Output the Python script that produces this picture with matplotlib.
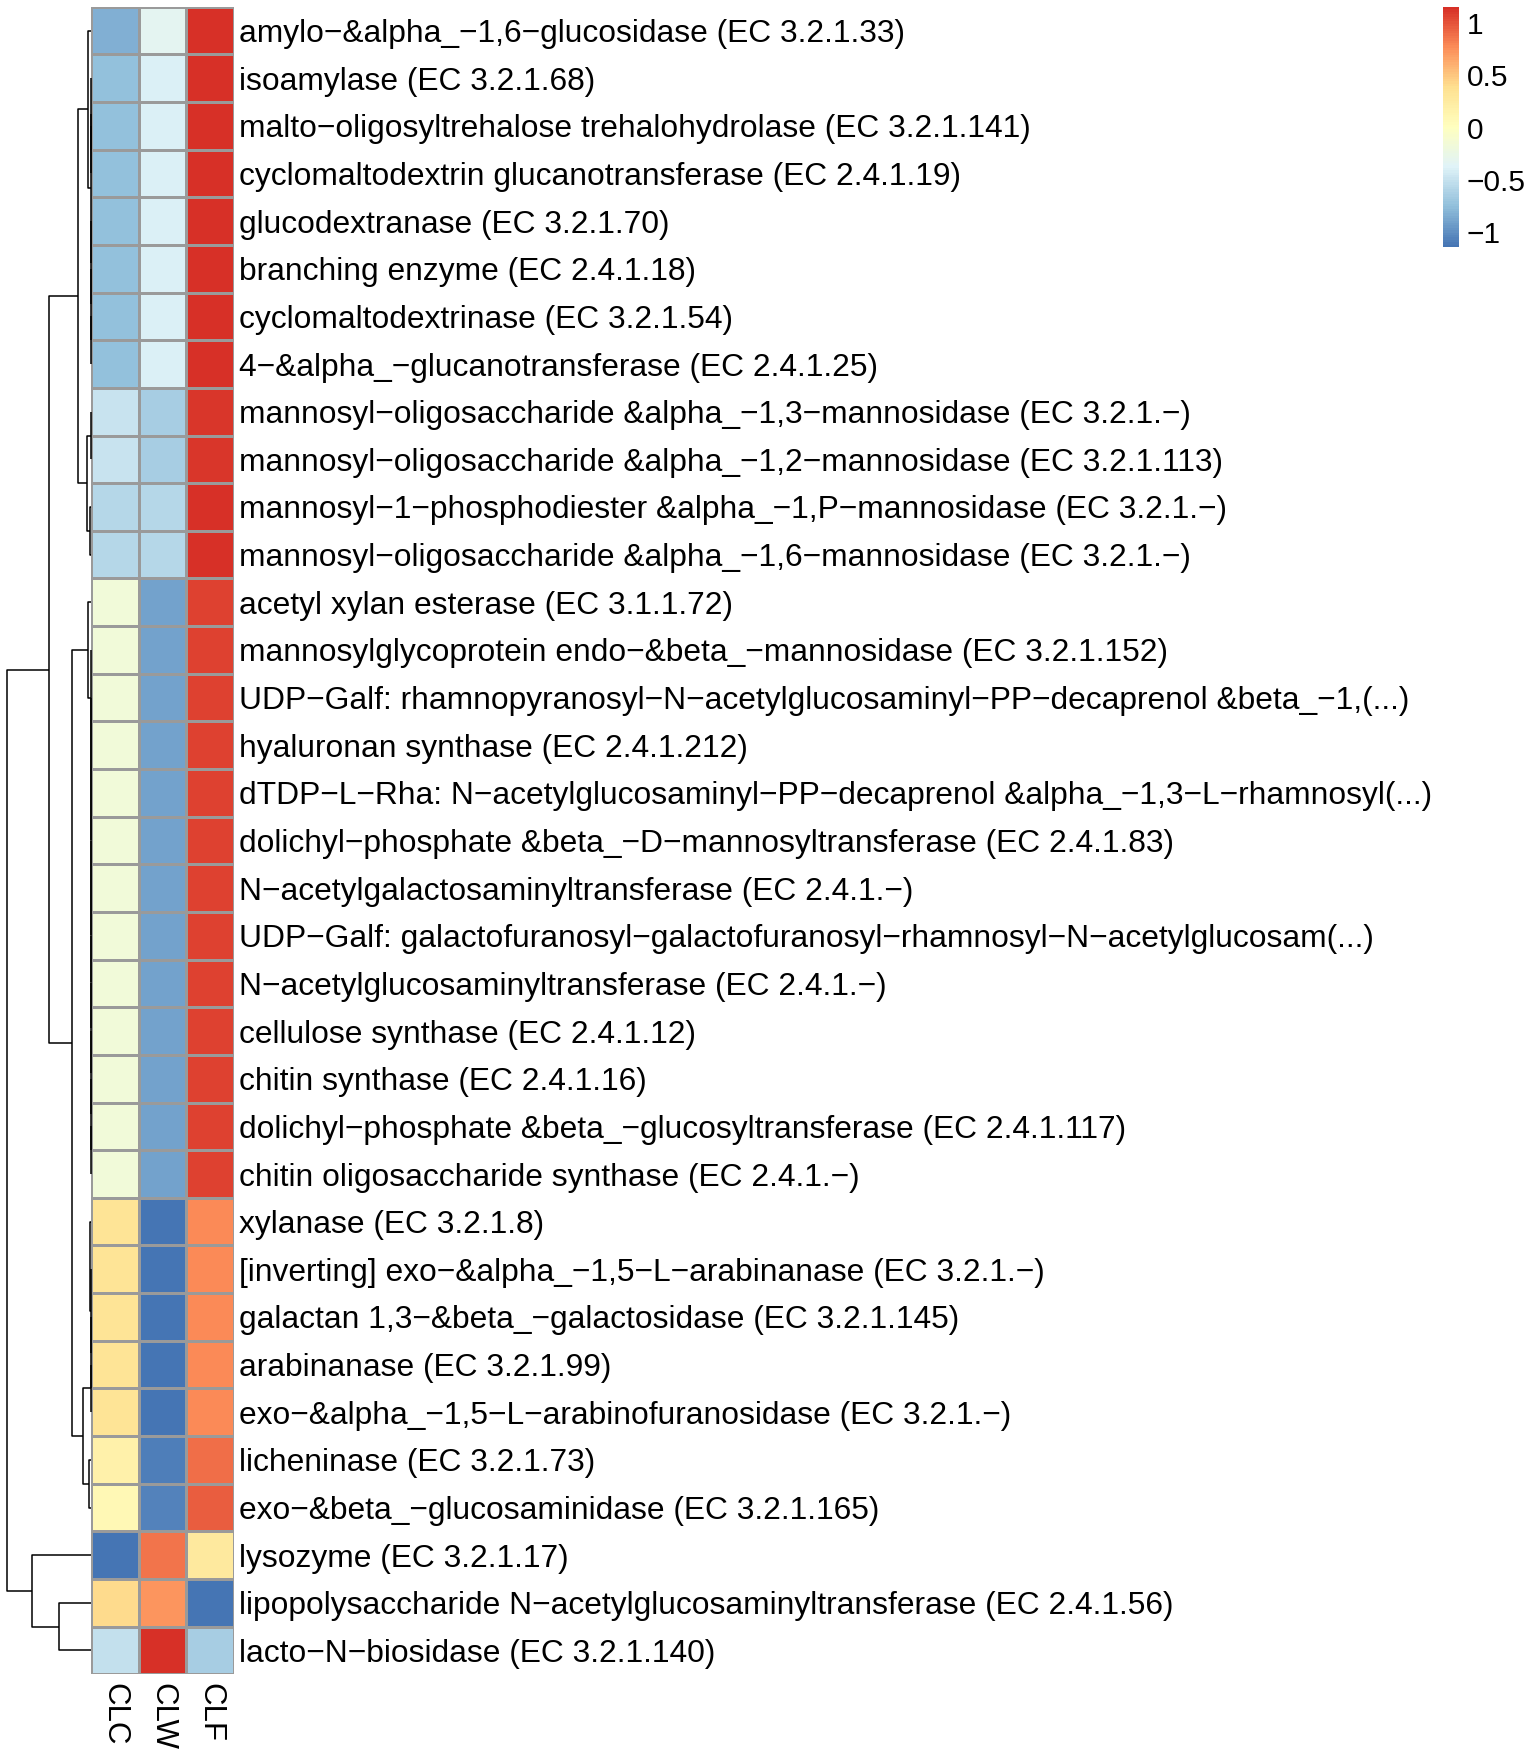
import numpy as np
import matplotlib
matplotlib.use('Agg')
import matplotlib.pyplot as plt
from matplotlib.colors import LinearSegmentedColormap, Normalize
from matplotlib.cm import ScalarMappable

plt.rcParams['font.family'] = ['Liberation Sans', 'DejaVu Sans']

# %% Data (row-scaled values, rows in dendrogram order)
samples = ['CLC', 'CLW', 'CLF']
enzymes = [
    'amylo−&alpha_−1,6−glucosidase (EC 3.2.1.33)',
    'isoamylase (EC 3.2.1.68)',
    'malto−oligosyltrehalose trehalohydrolase (EC 3.2.1.141)',
    'cyclomaltodextrin glucanotransferase (EC 2.4.1.19)',
    'glucodextranase (EC 3.2.1.70)',
    'branching enzyme (EC 2.4.1.18)',
    'cyclomaltodextrinase (EC 3.2.1.54)',
    '4−&alpha_−glucanotransferase (EC 2.4.1.25)',
    'mannosyl−oligosaccharide &alpha_−1,3−mannosidase (EC 3.2.1.−)',
    'mannosyl−oligosaccharide &alpha_−1,2−mannosidase (EC 3.2.1.113)',
    'mannosyl−1−phosphodiester &alpha_−1,P−mannosidase (EC 3.2.1.−)',
    'mannosyl−oligosaccharide &alpha_−1,6−mannosidase (EC 3.2.1.−)',
    'acetyl xylan esterase (EC 3.1.1.72)',
    'mannosylglycoprotein endo−&beta_−mannosidase (EC 3.2.1.152)',
    'UDP−Galf: rhamnopyranosyl−N−acetylglucosaminyl−PP−decaprenol &beta_−1,(...)',
    'hyaluronan synthase (EC 2.4.1.212)',
    'dTDP−L−Rha: N−acetylglucosaminyl−PP−decaprenol &alpha_−1,3−L−rhamnosyl(...)',
    'dolichyl−phosphate &beta_−D−mannosyltransferase (EC 2.4.1.83)',
    'N−acetylgalactosaminyltransferase (EC 2.4.1.−)',
    'UDP−Galf: galactofuranosyl−galactofuranosyl−rhamnosyl−N−acetylglucosam(...)',
    'N−acetylglucosaminyltransferase (EC 2.4.1.−)',
    'cellulose synthase (EC 2.4.1.12)',
    'chitin synthase (EC 2.4.1.16)',
    'dolichyl−phosphate &beta_−glucosyltransferase (EC 2.4.1.117)',
    'chitin oligosaccharide synthase (EC 2.4.1.−)',
    'xylanase (EC 3.2.1.8)',
    '[inverting] exo−&alpha_−1,5−L−arabinanase (EC 3.2.1.−)',
    'galactan 1,3−&beta_−galactosidase (EC 3.2.1.145)',
    'arabinanase (EC 3.2.1.99)',
    'exo−&alpha_−1,5−L−arabinofuranosidase (EC 3.2.1.−)',
    'licheninase (EC 3.2.1.73)',
    'exo−&beta_−glucosaminidase (EC 3.2.1.165)',
    'lysozyme (EC 3.2.1.17)',
    'lipopolysaccharide N−acetylglucosaminyltransferase (EC 2.4.1.56)',
    'lacto−N−biosidase (EC 3.2.1.140)',
]
clc = [-0.82, -0.74, -0.74, -0.74, -0.74, -0.74, -0.74, -0.74,
       -0.49, -0.49, -0.58, -0.58,
       -0.17, -0.17, -0.17, -0.17, -0.17, -0.17, -0.17, -0.17, -0.17, -0.17, -0.17, -0.17, -0.17,
       0.35, 0.35, 0.35, 0.35, 0.35, 0.18, 0.09,
       -1.14, 0.40, -0.50]
clw = [-0.33, -0.40, -0.40, -0.40, -0.40, -0.40, -0.40, -0.40,
       -0.64, -0.64, -0.57, -0.57,
       -0.91, -0.91, -0.91, -0.91, -0.91, -0.91, -0.91, -0.91, -0.91, -0.91, -0.91, -0.91, -0.91,
       -1.12, -1.12, -1.12, -1.12, -1.12, -1.08, -1.05,
       0.86, 0.74, 1.155]
clf = [1.15, 1.14, 1.14, 1.14, 1.14, 1.14, 1.14, 1.14,
       1.13, 1.13, 1.15, 1.15,
       1.08, 1.08, 1.08, 1.08, 1.08, 1.08, 1.08, 1.08, 1.08, 1.08, 1.08, 1.08, 1.08,
       0.77, 0.77, 0.77, 0.77, 0.77, 0.90, 0.96,
       0.28, -1.14, -0.65]

# row clustering, R hclust style: negative = leaf (1-based), positive = earlier merge
merge_a = [-7, -6, -5, -3, -2, 5, -1, -9, -11, 8, 7,
           -24, -23, -22, -21, -20, -19, -18, -17, -16, -15, -14, -13,
           -29, -28, -27, -26, -31, 24, 23, 11, -34, -33, 31]
merge_b = [-8, 1, 2, -4, 4, 3, 6, -10, -12, 9, 10,
           -25, 12, 13, 14, 15, 16, 17, 18, 19, 20, 21, 22,
           -30, 24, 25, 26, -32, 28, 29, 30, -35, 32, 33]
merge_h = [0.0, 0.0, 0.0, 0.0, 0.0, 0.05, 3.0, 0.2, 0.4, 3.4, 13.0,
           0.0, 0.0, 0.0, 0.0, 0.0, 0.0, 0.0, 0.0, 0.0, 0.0, 0.0, 2.4,
           0.0, 0.0, 0.0, 0.3, 1.7, 7.7, 18.4, 41.4, 31.4, 59.2, 83.4]

legend_ticks = [-1, -0.5, 0, 0.5, 1]

# %% Figure layout (pixels)
W, H = 1536, 1755
fig = plt.figure(figsize=(W / 100, H / 100), dpi=100)


def px_axes(x0, y0, x1, y1):
    return fig.add_axes([x0 / W, 1 - y1 / H, (x1 - x0) / W, (y1 - y0) / H])


mat = np.array([clc, clw, clf]).T
n = len(enzymes)
vmin, vmax = mat.min(), mat.max()
cmap = LinearSegmentedColormap.from_list(
    'rdylbu', ['#4575B4', '#91BFDB', '#E0F3F8', '#FFFFBF', '#FEE090', '#FC8D59', '#D73027'], N=100)
norm = Normalize(vmin, vmax)

# heatmap
ax = px_axes(90.7, 6.7, 234.3, 1674.3)
ax.pcolormesh(np.arange(4), np.arange(n + 1), mat, cmap=cmap, norm=norm,
              edgecolors='#9a9a9a', linewidth=1.0)
ax.set_xlim(0, 3)
ax.set_ylim(n, 0)
ax.set_frame_on(False)
ax.yaxis.tick_right()
ax.set_yticks(np.arange(n) + 0.5)
ax.set_yticklabels(enzymes, fontsize=22.9)
ax.set_xticks(np.arange(3) + 0.5)
ax.set_xticklabels(samples, fontsize=22.5, rotation=270, ha='center', va='top')
ax.tick_params(axis='y', length=0, pad=3.5)
ax.tick_params(axis='x', length=0, pad=6)

# dendrogram
dax = px_axes(7.3, 6.7, 90.7, 1674.3)
pos, hgt = [], []
for a, b, h in zip(merge_a, merge_b, merge_h):
    pa = -a - 0.5 if a < 0 else pos[a - 1]
    pb = -b - 0.5 if b < 0 else pos[b - 1]
    ha_ = 0.0 if a < 0 else hgt[a - 1]
    hb_ = 0.0 if b < 0 else hgt[b - 1]
    dax.plot([ha_, h, h, hb_], [pa, pa, pb, pb], color='black', lw=1.1,
             solid_capstyle='butt', clip_on=False)
    pos.append((pa + pb) / 2)
    hgt.append(h)
dax.set_xlim(max(merge_h), 0)
dax.set_ylim(n, 0)
dax.axis('off')

# colour legend
cax = px_axes(1443, 7, 1459, 247)
cb = fig.colorbar(ScalarMappable(norm=norm, cmap=cmap), cax=cax)
cb.outline.set_visible(False)
cb.set_ticks(legend_ticks)
cb.set_ticklabels(['−1', '−0.5', '0', '0.5', '1'])
cax.tick_params(length=0, pad=5.5, labelsize=21.5)

fig.savefig('out.png', dpi=100)
